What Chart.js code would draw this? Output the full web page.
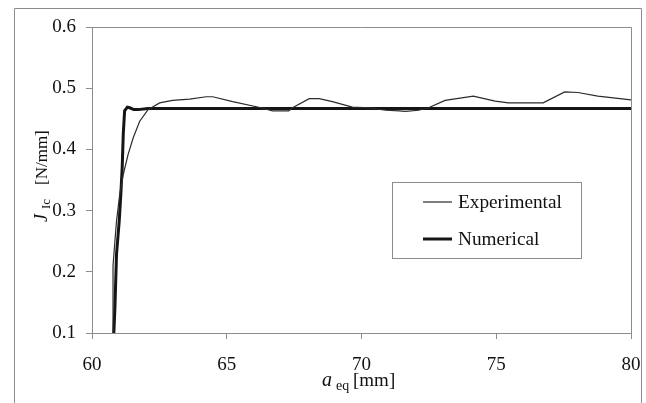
<!DOCTYPE html>
<html>
<head>
<meta charset="utf-8">
<script src="https://cdn.jsdelivr.net/npm/chart.js@4"></script>
<style>
  html, body { margin: 0; padding: 0; background: #fff; }
  #wrap { width: 646px; height: 403px; }
</style>
</head>
<body>
<div id="wrap"><canvas id="myChart" width="646" height="403"></canvas></div>
<script>
// data
const expX = [60.79, 60.78, 60.85, 60.91, 61.03, 61.16, 61.34, 61.53, 61.77, 62.08, 62.51, 62.99, 63.62, 64.24, 64.48,
  65.22, 66.27, 66.7, 67.3, 67.44, 68.06, 68.43, 68.92, 69.66, 70.27, 70.9, 71.4, 71.63, 72.12, 72.49,
  73.1, 74.15, 74.96, 75.45, 76.74, 77.54, 78.03, 78.77, 80];
const expY = [0.10, 0.21, 0.25, 0.283, 0.327, 0.359, 0.392, 0.419, 0.446, 0.465, 0.476, 0.480, 0.482, 0.486, 0.486,
  0.478, 0.468, 0.463, 0.463, 0.468, 0.483, 0.483, 0.478, 0.469, 0.468, 0.464, 0.463, 0.462, 0.464, 0.468,
  0.480, 0.487, 0.479, 0.476, 0.476, 0.494, 0.493, 0.487, 0.481];
const numX = [60.81, 60.85, 60.91, 61.01, 61.07, 61.12, 61.16, 61.21, 61.31, 61.40, 61.55, 61.71, 62.08, 80];
const numY = [0.10, 0.141, 0.229, 0.283, 0.327, 0.370, 0.425, 0.463, 0.469, 0.468, 0.465, 0.465, 0.467, 0.467];
const seriesNames = ['Experimental', 'Numerical'];
const xTicks = [60, 65, 70, 75, 80];
const yTicks = [0.1, 0.2, 0.3, 0.4, 0.5, 0.6];

const serif = "'Liberation Serif', 'DejaVu Serif', serif";
const grey = '#8c8c8c';

function pts(xs, ys) {
  return xs.map((x, i) => ({ x: x, y: ys[i] }));
}

// frame, plot border, titles and legend
const decor = {
  id: 'decor',
  beforeDraw(chart) {
    const ctx = chart.ctx;
    ctx.save();
    ctx.strokeStyle = grey;
    ctx.lineWidth = 1;
    ctx.beginPath();
    ctx.moveTo(14.5, 410);
    ctx.lineTo(14.5, 8.5);
    ctx.lineTo(641.5, 8.5);
    ctx.lineTo(641.5, 410);
    ctx.stroke();
    ctx.restore();
  },
  afterDraw(chart) {
    const { ctx, chartArea: a } = chart;
    ctx.save();
    ctx.strokeStyle = grey;
    ctx.lineWidth = 1;
    ctx.beginPath();
    ctx.moveTo(a.left, a.top + 0.5);
    ctx.lineTo(a.right + 0.5, a.top + 0.5);
    ctx.lineTo(a.right + 0.5, a.bottom);
    ctx.stroke();

    // x title: a eq [mm]
    ctx.fillStyle = '#111';
    ctx.textBaseline = 'alphabetic';
    ctx.textAlign = 'left';
    ctx.font = 'italic 20px ' + serif;
    ctx.fillText('a', 322, 386);
    ctx.font = '14px ' + serif;
    ctx.fillText('eq', 336, 390);
    ctx.font = '19px ' + serif;
    ctx.fillText('[mm]', 353, 386);

    // y title: J Ic [N/mm]
    ctx.save();
    ctx.translate(47, 223);
    ctx.rotate(-Math.PI / 2);
    ctx.font = 'italic 18px ' + serif;
    ctx.fillText('J', 1, 0);
    ctx.font = '13px ' + serif;
    ctx.fillText('Ic', 14, 3);
    ctx.font = '17px ' + serif;
    ctx.fillText('[N/mm]', 38, 0);
    ctx.restore();

    // legend box
    ctx.fillStyle = '#fff';
    ctx.fillRect(392, 182, 190, 77);
    ctx.strokeStyle = grey;
    ctx.lineWidth = 1;
    ctx.strokeRect(392.5, 182.5, 189, 76);
    const rows = [202, 239];
    chart.data.datasets.forEach((ds, i) => {
      ctx.strokeStyle = ds.borderColor;
      ctx.lineWidth = ds.borderWidth;
      ctx.beginPath();
      ctx.moveTo(423, rows[i]);
      ctx.lineTo(452, rows[i]);
      ctx.stroke();
      ctx.fillStyle = '#111';
      ctx.font = '19.3px ' + serif;
      ctx.textBaseline = 'middle';
      ctx.fillText(ds.label, 458, rows[i] + 1);
    });
    ctx.restore();
  }
};

const config = {
  type: 'line',
  data: {
    datasets: [{
      label: seriesNames[0],
      data: pts(expX, expY),
      borderColor: '#2b2b2b',
      borderWidth: 1.2,
      pointRadius: 0,
      tension: 0
    }, {
      label: seriesNames[1],
      data: pts(numX, numY),
      borderColor: '#151515',
      borderWidth: 3,
      pointRadius: 0,
      tension: 0
    }]
  },
  options: {
    responsive: false,
    animation: false,
    layout: { padding: { left: 0, top: 27, right: 15, bottom: 0 } },
    plugins: {
      legend: { display: false },
      tooltip: { enabled: false }
    },
    scales: {
      x: {
        type: 'linear',
        min: 60,
        max: 80,
        afterFit(scale) {
          scale.height = 70;
          scale.paddingLeft = 0;
          scale.paddingRight = 0;
        },
        afterBuildTicks(scale) { scale.ticks = xTicks.map(v => ({ value: v })); },
        grid: { drawOnChartArea: false, tickLength: 6, color: grey },
        border: { color: grey, width: 1 },
        ticks: {
          color: '#111',
          font: { family: serif, size: 19 },
          padding: 15,
          maxRotation: 0
        }
      },
      y: {
        min: 0.1,
        max: 0.6,
        afterFit(scale) {
          scale.width = 92;
          scale.paddingTop = 0;
          scale.paddingBottom = 0;
        },
        afterBuildTicks(scale) { scale.ticks = yTicks.map(v => ({ value: v })); },
        grid: { drawOnChartArea: false, tickLength: 6, color: grey },
        border: { color: grey, width: 1 },
        ticks: {
          color: '#111',
          font: { family: serif, size: 19 },
          padding: 10,
          callback: v => v.toFixed(1)
        }
      }
    }
  },
  plugins: [decor]
};

const myChart = new Chart(document.getElementById('myChart'), config);
</script>
</body>
</html>
